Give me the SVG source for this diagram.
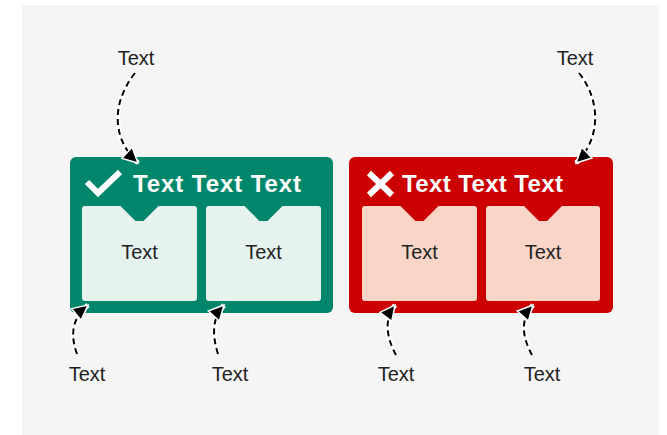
<svg xmlns="http://www.w3.org/2000/svg" width="667" height="435" viewBox="0 0 667 435">
<style>
.lbl{font-family:"Liberation Sans",Arial,sans-serif;font-size:20px;fill:#222;text-anchor:middle}
.ttl{font-family:"Liberation Sans",Arial,sans-serif;font-size:24px;font-weight:bold;fill:#fff}
.halo{fill:none;stroke:#fff;stroke-width:5}
.dash{fill:none;stroke:#000;stroke-width:2;stroke-dasharray:6,4;marker-end:url(#ah)}
.icon{fill:none;stroke:#fff;stroke-width:6}
</style>
<defs>
<marker id="ah" markerUnits="userSpaceOnUse" markerWidth="20" markerHeight="20" refX="15" refY="7.5" orient="auto" overflow="visible">
<path d="M0,0 L15,7.5 L0,15 Z" fill="#000" stroke="#fff" stroke-width="1.5" stroke-linejoin="miter"/>
</marker>
</defs>
<rect x="22" y="5" width="637" height="430" fill="#F5F5F5"/>
<g id="panel-good">
<rect x="70" y="157" width="263" height="156" rx="6" fill="#00876B"/>
<polyline class="icon" points="87,182 98,193 120,172"/>
<text class="ttl" x="133" y="192" textLength="168" lengthAdjust="spacing">Text Text Text</text>
</g>
<g id="box-good-1">
<path d="M85,206 H120.5 L135.5,221 H143.5 L158.5,206 H194 Q197,206 197,209 V298 Q197,301 194,301 H85 Q82,301 82,298 V209 Q82,206 85,206 Z" fill="#E5F2EE"/>
<text class="lbl" x="139.5" y="259">Text</text>
</g>
<g id="box-good-2">
<path d="M209,206 H244.5 L259.5,221 H267.5 L282.5,206 H318 Q321,206 321,209 V298 Q321,301 318,301 H209 Q206,301 206,298 V209 Q206,206 209,206 Z" fill="#E5F2EE"/>
<text class="lbl" x="263.5" y="259">Text</text>
</g>
<g id="panel-bad">
<rect x="349" y="157" width="264" height="156" rx="6" fill="#CC0000"/>
<path class="icon" d="M369,173 L392,195 M392,173 L369,195"/>
<text class="ttl" x="402" y="192" textLength="161" lengthAdjust="spacing">Text Text Text</text>
</g>
<g id="box-bad-1">
<path d="M365,206 H400.5 L415.5,221 H423.5 L438.5,206 H474 Q477,206 477,209 V298 Q477,301 474,301 H365 Q362,301 362,298 V209 Q362,206 365,206 Z" fill="#F8D5C7"/>
<text class="lbl" x="419.5" y="259">Text</text>
</g>
<g id="box-bad-2">
<path d="M489,206 H524 L539,221 H547 L562,206 H597 Q600,206 600,209 V298 Q600,301 597,301 H489 Q486,301 486,298 V209 Q486,206 489,206 Z" fill="#F8D5C7"/>
<text class="lbl" x="543" y="259">Text</text>
</g>
<g id="connectors">
<path class="halo" d="M135,73 C110,105 113,140 138,163"/>
<path class="dash" d="M135,73 C110,105 113,140 138,163"/>
<path class="halo" d="M579,73 C602,102 600,140 576,163"/>
<path class="dash" d="M579,73 C602,102 600,140 576,163"/>
<path class="halo" d="M77,354 C70,335 72,318 88,305"/>
<path class="dash" d="M77,354 C70,335 72,318 88,305"/>
<path class="halo" d="M218,354 C212,335 212,318 224,305"/>
<path class="dash" d="M218,354 C212,335 212,318 224,305"/>
<path class="halo" d="M396,355 C385,335 385,318 395,305"/>
<path class="dash" d="M396,355 C385,335 385,318 395,305"/>
<path class="halo" d="M532,355 C521,335 521,318 533,305"/>
<path class="dash" d="M532,355 C521,335 521,318 533,305"/>
</g>
<g id="labels">
<text class="lbl" x="136" y="65">Text</text>
<text class="lbl" x="575" y="65">Text</text>
<text class="lbl" x="87" y="381">Text</text>
<text class="lbl" x="230" y="381">Text</text>
<text class="lbl" x="396" y="381">Text</text>
<text class="lbl" x="542" y="381">Text</text>
</g>
</svg>
